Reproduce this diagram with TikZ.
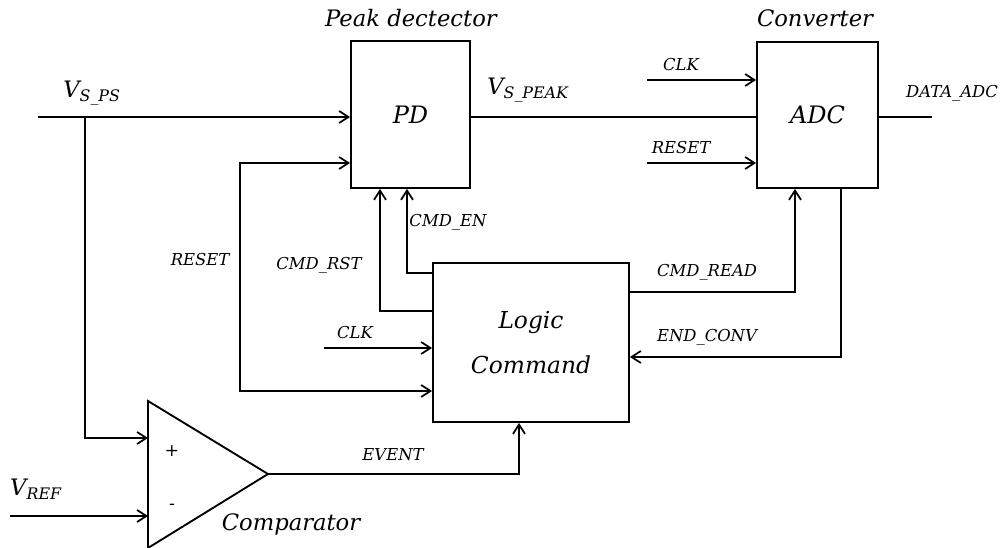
\documentclass[tikz,border=0pt]{standalone}
\usepackage{fontspec}
\setmainfont{DejaVu Serif}
\usetikzlibrary{arrows.meta,positioning}

\begin{document}
\begin{tikzpicture}[x=0.75pt,y=-0.75pt,line width=1.4pt,
  >={Straight Barb[length=7pt,width=9pt,line width=1.3pt]},
  block/.style={draw,line width=1.4pt,inner sep=0pt,font=\itshape\fontsize{18}{22}\selectfont},
  title/.style={font=\itshape\fontsize{17}{20}\selectfont,inner sep=0pt},
  sig/.style={font=\itshape\fontsize{12.3}{14}\selectfont,inner sep=0pt},
  volt/.style={font=\itshape\fontsize{17}{20}\selectfont,inner sep=0pt}]
  \useasboundingbox (0,0) rectangle (1003,548);
  % blocks
  \node[block,minimum width=89.25pt,minimum height=110.25pt] (pd) at (410.5,114.5) {PD};
  \node[block,minimum width=90.75pt,minimum height=109.5pt] (adc) at (817.5,115) {ADC};
  \node[block,minimum width=147pt,minimum height=119.25pt,align=center,
    font=\itshape\fontsize{17.5}{34}\selectfont] (logic) at (531,342.5) {Logic\\Command};
  % comparator
  \coordinate (cmpp) at (148,438);
  \coordinate (cmpm) at (148,516);
  \coordinate (cmpo) at (268,474);
  \draw (148,401) -- (cmpo) -- (148,548) -- cycle;
  \node[sig,font=\fontsize{13}{15}\selectfont] (plus) at (172,451) {+};
  \node[sig,font=\fontsize{13}{15}\selectfont] (minus) at (172,507) {-};
  % titles
  \node[title] (pdtitle) at (411,18) {Peak dectector};
  \node[title] (adctitle) at (815,18) {Converter};
  \node[title] (cmptitle) at (291,524) {Comparator};
  % input signal
  \coordinate (vsps) at (38,117);
  \coordinate (vbr) at (85,117);
  \coordinate (vref) at (10,516);
  \draw[->] (vsps) -- (vsps -| pd.west);
  \draw[->] (vbr) -- (vbr |- cmpp) -- (cmpp);
  \draw[->] (vref) -- (cmpm);
  \node[volt] (vspslbl) at (92,93) {V\textsubscript{S\_PS}};
  \node[volt] (vreflbl) at (36,489) {V\textsubscript{REF}};
  % reset loop
  \coordinate (rsttop) at (240,163);
  \coordinate (rstbot) at (240,391);
  \draw[<->] (rsttop -| pd.west) -- (rsttop) -- (rstbot) -- (rstbot -| logic.west);
  \node[sig] (rstlbl) at (200,260) {RESET};
  % commands to peak detector
  \coordinate (rstcmd) at (380,311);
  \coordinate (encmd) at (407,273);
  \draw[->] (rstcmd -| logic.west) -- (rstcmd) -- (rstcmd |- pd.south);
  \draw[->] (encmd -| logic.west) -- (encmd) -- (encmd |- pd.south);
  \node[sig] (cmdrstlbl) at (319,265) {CMD\_RST};
  \node[sig] (cmdenlbl) at (448,222) {CMD\_EN};
  % clock to logic
  \coordinate (clkl) at (324,348);
  \draw[->] (clkl) -- (clkl -| logic.west);
  \node[sig] (clkllbl) at (355,333) {CLK};
  % event
  \coordinate (evx) at (519,474);
  \draw[->] (cmpo) -- (evx) -- (evx |- logic.south);
  \node[sig] (evlbl) at (393,455) {EVENT};
  % peak to converter
  \draw (vsps -| pd.east) -- (vsps -| adc.west);
  \node[volt] (vpeaklbl) at (528,90) {V\textsubscript{S\_PEAK}};
  \coordinate (clka) at (647,80);
  \coordinate (rsta) at (647,163);
  \draw[->] (clka) -- (clka -| adc.west);
  \draw[->] (rsta) -- (rsta -| adc.west);
  \node[sig] (clkalbl) at (681,65) {CLK};
  \node[sig] (rstalbl) at (681,148) {RESET};
  % output
  \coordinate (dout) at (932,117);
  \draw (dout -| adc.east) -- (dout);
  \node[sig] (doutlbl) at (952,93) {DATA\_ADC};
  % logic <-> converter
  \coordinate (rdc) at (795,292);
  \coordinate (endc) at (841,357);
  \draw[->] (rdc -| logic.east) -- (rdc) -- (rdc |- adc.south);
  \draw[->] (endc |- adc.south) -- (endc) -- (endc -| logic.east);
  \node[sig] (rdlbl) at (707,272) {CMD\_READ};
  \node[sig] (endlbl) at (707,337) {END\_CONV};
\end{tikzpicture}
\end{document}
